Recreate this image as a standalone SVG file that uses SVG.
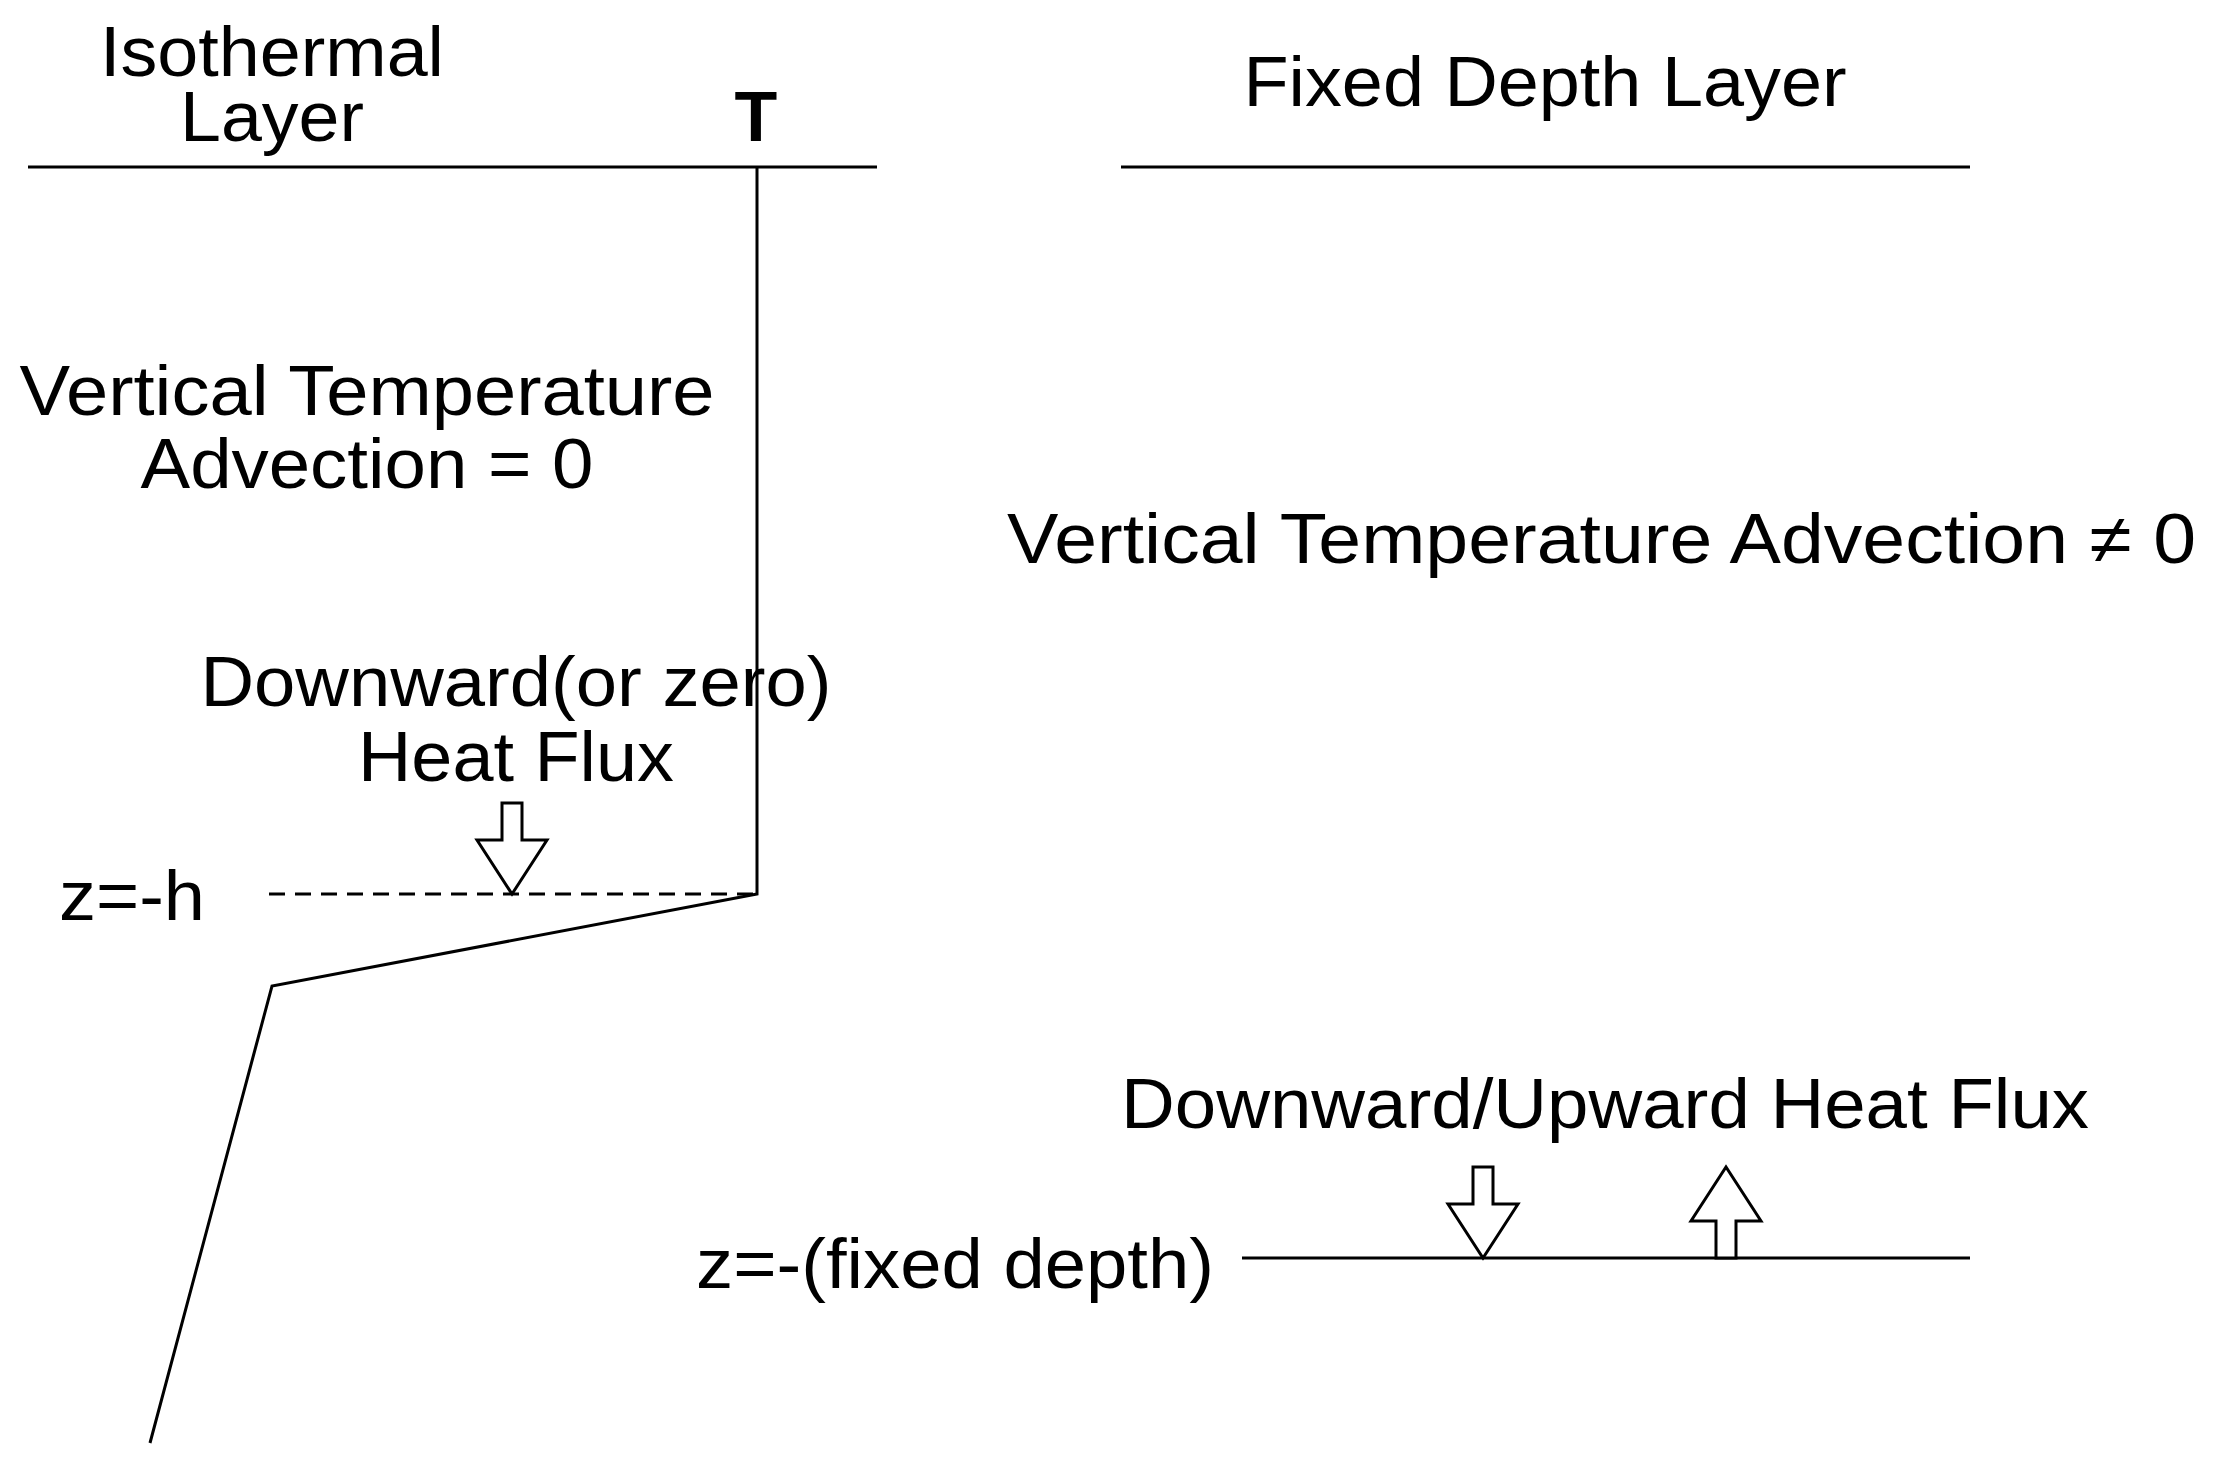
<svg xmlns="http://www.w3.org/2000/svg" width="2219" height="1473" viewBox="0 0 2219 1473">
<style>
.t{font-family:"Liberation Sans",Arial,sans-serif;font-size:70px;fill:#000}
.l{stroke:#000;stroke-width:3;fill:none}
.a{stroke:#000;stroke-width:3;fill:#fff}
</style>
<defs>
<path id="dn" d="M-10,-91 L10,-91 L10,-54 L35,-54 L0,0 L-35,-54 L-10,-54 Z"/>
</defs>
<rect width="2219" height="1473" fill="#fff"/>
<g id="iso-label"><text class="t" x="272" y="76" text-anchor="middle" textLength="344" lengthAdjust="spacingAndGlyphs">Isothermal</text><text class="t" x="272" y="141" text-anchor="middle" textLength="184" lengthAdjust="spacingAndGlyphs">Layer</text></g>
<g id="T"><text class="t" x="756" y="141" text-anchor="middle" font-weight="bold" font-size="66">T</text></g>
<g id="fixed-label"><text class="t" x="1545" y="106" text-anchor="middle" textLength="603" lengthAdjust="spacingAndGlyphs">Fixed Depth Layer</text></g>
<g id="vta0"><text class="t" x="367" y="415" text-anchor="middle" textLength="695" lengthAdjust="spacingAndGlyphs">Vertical Temperature</text><text class="t" x="367" y="488" text-anchor="middle" textLength="453" lengthAdjust="spacingAndGlyphs">Advection = 0</text></g>
<g id="vta1"><text class="t" x="1007" y="563" textLength="1189" lengthAdjust="spacingAndGlyphs">Vertical Temperature Advection ≠ 0</text></g>
<g id="dflux"><text class="t" x="516" y="706" text-anchor="middle" textLength="631" lengthAdjust="spacingAndGlyphs">Downward(or zero)</text><text class="t" x="516" y="781" text-anchor="middle" textLength="316" lengthAdjust="spacingAndGlyphs">Heat Flux</text></g>
<g id="zh"><text class="t" x="59" y="920" textLength="146" lengthAdjust="spacingAndGlyphs">z=-h</text></g>
<g id="duflux"><text class="t" x="1605" y="1128" text-anchor="middle" textLength="968" lengthAdjust="spacingAndGlyphs">Downward/Upward Heat Flux</text></g>
<g id="zfd"><text class="t" x="1214" y="1288" text-anchor="end" textLength="518" lengthAdjust="spacingAndGlyphs">z=-(fixed depth)</text></g>
<g id="connectors">
<line class="l" x1="28" y1="167" x2="877" y2="167"/>
<line class="l" x1="1121" y1="167" x2="1970" y2="167"/>
<polyline class="l" points="757,167 757,894 272,986 150,1443"/>
<line class="l" x1="269" y1="894" x2="757" y2="894" stroke-dasharray="16,10"/>
<line class="l" x1="1242" y1="1258" x2="1970" y2="1258"/>
<use href="#dn" class="a" transform="translate(512,894)"/>
<use href="#dn" class="a" transform="translate(1483,1258)"/>
<use href="#dn" class="a" transform="translate(1726,1167) scale(1,-1)"/>
</g>
</svg>
